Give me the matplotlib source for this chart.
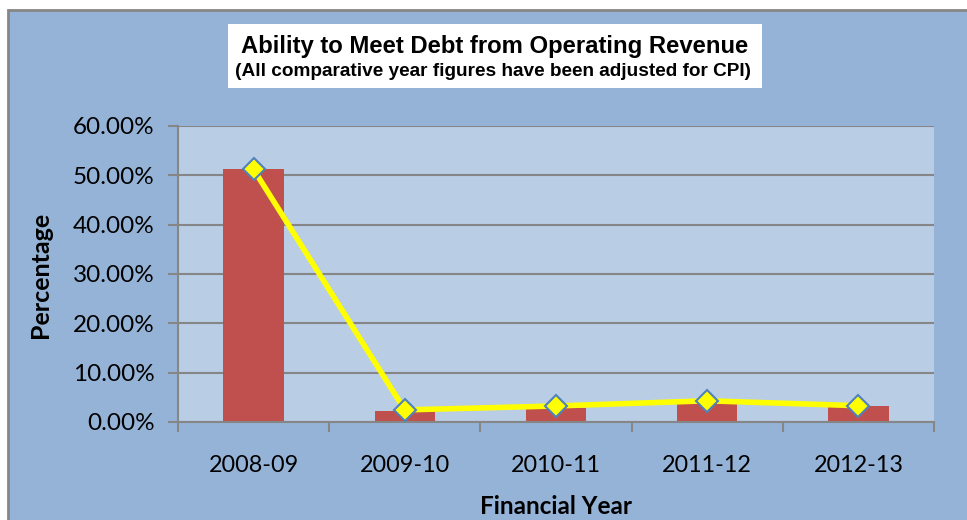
import numpy as np
import matplotlib.pyplot as plt
from matplotlib.patches import Rectangle
from matplotlib.ticker import FuncFormatter, FixedLocator

# data
years = ['2008-09', '2009-10', '2010-11', '2011-12', '2012-13']
bar_values = [0.512, 0.023, 0.028, 0.036, 0.0325]
line_values = [0.512, 0.0245, 0.0325, 0.043, 0.033]

W, H = 967, 520
fig = plt.figure(figsize=(W / 100, H / 100), dpi=100)
fig.patch.set_facecolor('white')

# chart area background with grey border (top/left visible)
fig.patches.append(Rectangle((8 / W, -0.05), 1.1, (H - 10) / H + 0.05,
                             transform=fig.transFigure, facecolor='#95b3d7',
                             edgecolor='#868686', linewidth=2, zorder=-2))

left, right, top, bottom = 178, 934, 126, 422
ax = fig.add_axes([left / W, (H - bottom) / H, (right - left) / W, (bottom - top) / H])
ax.set_facecolor('#b9cde5')
ax.set_zorder(1)

x = np.arange(len(years))
ax.bar(x, bar_values, width=0.4, color='#c0504d', zorder=2)
ax.plot(x, line_values, color='#ffff00', linewidth=4, marker='D', markersize=11,
        markerfacecolor='#ffff00', markeredgecolor='#4f81bd', markeredgewidth=1.5,
        zorder=3)

ax.set_xlim(-0.5, len(years) - 0.5)
ax.set_ylim(0, 0.6)
ax.set_yticks(np.arange(0, 0.61, 0.1))
ax.yaxis.set_major_formatter(FuncFormatter(lambda v, p: f'{v * 100:.2f}%'))
ax.grid(axis='y', color='#868686', linewidth=1.5, zorder=1)
ax.set_axisbelow(True)

ax.set_xticks(x)
ax.set_xticklabels(years)
ax.xaxis.set_minor_locator(FixedLocator(np.arange(-0.5, len(years), 1.0)))
ax.tick_params(axis='x', which='major', length=0, pad=24)
ax.tick_params(axis='x', which='minor', length=7, width=1.5, color='#868686', direction='out')
ax.tick_params(axis='y', length=7, width=1.5, color='#868686', direction='out', pad=10)

for lab in ax.get_yticklabels():
    lab.set_fontfamily('Lato')
    lab.set_fontsize(17.5)
for lab in ax.get_xticklabels():
    lab.set_fontfamily('Lato')
    lab.set_fontsize(16.8)

for s in ['top', 'right']:
    ax.spines[s].set_visible(False)
for s in ['left', 'bottom']:
    ax.spines[s].set_color('#868686')
    ax.spines[s].set_linewidth(1.5)

fig.text(40 / W, 1 - 275 / H, 'Percentage', rotation=90, ha='center', va='center',
         fontfamily='Lato', fontweight='bold', fontsize=18)
fig.text(556 / W, 1 - 506 / H, 'Financial Year', ha='center', va='center',
         fontfamily='Lato', fontweight='bold', fontsize=17.5)

# title box
fig.patches.append(Rectangle((228 / W, 1 - 88 / H), (762 - 228) / W, 64 / H,
                             transform=fig.transFigure, facecolor='white',
                             edgecolor='none', zorder=-1))
fig.text(495 / W, 1 - 47 / H, 'Ability to Meet Debt from Operating Revenue',
         ha='center', va='center', fontfamily='Liberation Sans', fontweight='bold',
         fontsize=17.2, zorder=2)
fig.text(493 / W, 1 - 72 / H, '(All comparative year figures have been adjusted for CPI)',
         ha='center', va='center', fontfamily='Liberation Sans', fontweight='bold',
         fontsize=13.7, zorder=2)

fig.savefig('out.png', dpi=100)
